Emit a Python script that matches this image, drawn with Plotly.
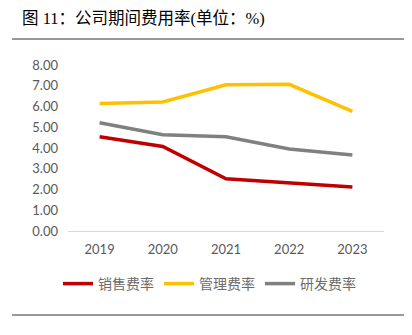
import plotly.graph_objects as go

years = ["2019", "2020", "2021", "2022", "2023"]
sales_rate = [4.54, 4.07, 2.52, 2.34, 2.12]
admin_rate = [6.15, 6.22, 7.05, 7.07, 5.76]
rd_rate = [5.22, 4.64, 4.54, 3.95, 3.66]
series_names = ["销售费率", "管理费率", "研发费率"]
colors = ["#C00000", "#FFC000", "#808080"]

fig = go.Figure()
for name, vals, c in zip(series_names, [sales_rate, admin_rate, rd_rate], colors):
    fig.add_trace(go.Scatter(x=years, y=vals, mode="lines", name=name,
                             line=dict(color=c, width=3.5)))

W, H = 412, 335
L, R, T, B = 68, 28, 65, 104
pw, ph = W - L - R, H - T - B

def px_x(x):
    return (x - L) / pw

def px_y(y):
    return (H - B - y) / ph

fig.update_layout(
    width=W, height=H,
    margin=dict(l=L, r=R, t=T, b=B, autoexpand=False),
    paper_bgcolor="white", plot_bgcolor="white",
    title=dict(text="图 11：公司期间费用率(单位：%)", x=22 / W, xref="container", xanchor="left",
               y=1 - 18 / H, yref="container", yanchor="middle",
               font=dict(family="Liberation Serif, Noto Sans CJK SC", size=16.5, color="#000000")),
    xaxis=dict(type="category", range=[-0.5, 4.5], showgrid=False, showline=True, linecolor="#D9D9D9",
               linewidth=1, ticks="", ticklabelstandoff=6,
               tickfont=dict(family="Lato, Open Sans", size=13, color="#595959")),
    yaxis=dict(range=[0, 8], dtick=1, tickformat=".2f", showgrid=False, zeroline=False, showline=False,
               ticks="", ticklabelstandoff=9,
               tickfont=dict(family="Lato, Open Sans", size=13, color="#595959")),
    legend=dict(orientation="h", xref="container", yref="container", x=58 / W, y=1 - 284 / H,
                xanchor="left", yanchor="middle", entrywidth=56, itemwidth=30,
                font=dict(family="Noto Sans CJK SC", size=14, color="#6b6b6b")),
    shapes=[
        dict(type="line", xref="paper", yref="paper", x0=px_x(12), x1=px_x(404), y0=px_y(39), y1=px_y(39),
             line=dict(color="#333333", width=1.2)),
        dict(type="line", xref="paper", yref="paper", x0=px_x(12), x1=px_x(404), y0=px_y(315), y1=px_y(315),
             line=dict(color="#333333", width=1.2)),
    ],
)

fig.write_html("out.html")
